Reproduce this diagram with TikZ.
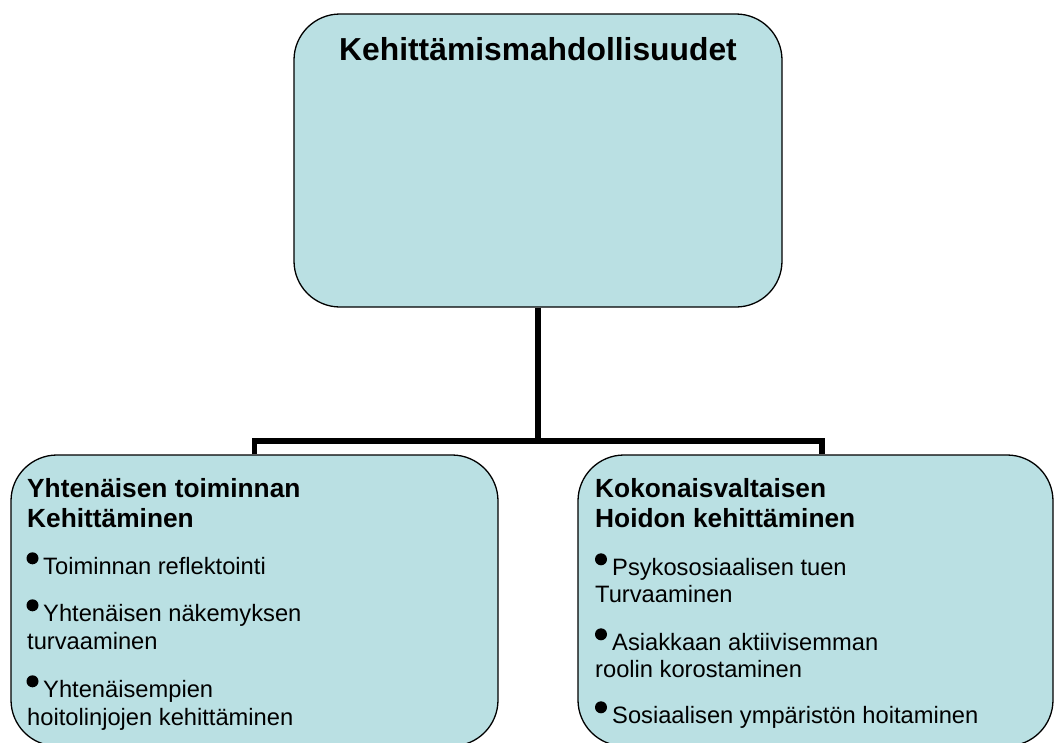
\documentclass[tikz,border=0pt]{standalone}
\usepackage{fontspec}
\setmainfont{Liberation Sans}
\definecolor{boxfill}{RGB}{186,224,227}
\tikzset{
  box/.style={draw=black, line width=1.3pt, fill=boxfill, rounded corners=46pt, inner sep=0pt},
  conn/.style={draw=black, line width=5.6pt},
  title/.style={inner sep=0pt, anchor=base, font=\fontsize{31.8}{36}\selectfont\bfseries},
  head/.style={inner sep=0pt, anchor=base west, font=\fontsize{26.3}{30}\selectfont\bfseries},
  body/.style={inner sep=0pt, anchor=base west, font=\fontsize{23.7}{28}\selectfont},
  dot/.style={fill=black}
}
\begin{document}
\begin{tikzpicture}[x=1pt, y=-1pt]
  \useasboundingbox (0,0) rectangle (1055,742);
  \clip (0,0) rectangle (1055,742);

  % boxes
  \node[box, minimum width=488pt, minimum height=293pt] (top) at (538,160.5) {};
  \node[box, minimum width=487pt, minimum height=291pt] (left) at (254.5,600.5) {};
  \node[box, minimum width=475pt, minimum height=291pt] (right) at (815.5,600.5) {};

  % connectors
  \coordinate (fork) at (538,441);
  \draw[conn] (top.south) -- (fork);
  \draw[conn] (left.north) |- (fork) -| ([xshift=6.5pt]right.north);

  % title
  \node[title] (ttl) at (538,60) {Kehittämismahdollisuudet};

  % left box text
  \node[head] (l1) at (27,497) {Yhtenäisen toiminnan};
  \node[head] (l2) at (27,527) {Kehittäminen};
  \fill[dot] (32.5,558.3) circle (6pt);
  \node[body] (l3) at (43,574) {Toiminnan reflektointi};
  \fill[dot] (32.5,605.3) circle (6pt);
  \node[body] (l4) at (43,621) {Yhtenäisen näkemyksen};
  \node[body] (l5) at (27,649) {turvaaminen};
  \fill[dot] (32.5,681.3) circle (6pt);
  \node[body] (l6) at (43,697) {Yhtenäisempien};
  \node[body] (l7) at (27,725) {hoitolinjojen kehittäminen};

  % right box text
  \node[head] (r1) at (595,497) {Kokonaisvaltaisen};
  \node[head] (r2) at (595,527) {Hoidon kehittäminen};
  \fill[dot] (601,559.3) circle (6pt);
  \node[body] (r3) at (612,575) {Psykososiaalisen tuen};
  \node[body] (r4) at (595,602) {Turvaaminen};
  \fill[dot] (601,634.3) circle (6pt);
  \node[body] (r5) at (612,650) {Asiakkaan aktiivisemman};
  \node[body] (r6) at (595,677) {roolin korostaminen};
  \fill[dot] (601,707.3) circle (6pt);
  \node[body] (r7) at (612,723) {Sosiaalisen ympäristön hoitaminen};
\end{tikzpicture}
\end{document}
